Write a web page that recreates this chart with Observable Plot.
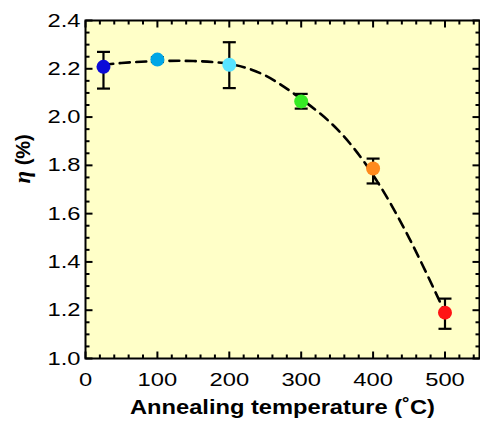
<!DOCTYPE html>
<html><head><meta charset="utf-8">
<script src="https://cdn.jsdelivr.net/npm/d3@7"></script>
<script src="https://cdn.jsdelivr.net/npm/@observablehq/plot@0.6"></script>
<style>body{margin:0;background:#fff} svg{display:block}</style>
</head><body><div id="chart"></div>
<script>
const temps = [25, 100, 200, 300, 400, 500];
const eta = [2.208, 2.238, 2.217, 2.065, 1.787, 1.19];
const errLo = [2.118, 2.228, 2.12, 2.035, 1.725, 1.123];
const errHi = [2.27, 2.248, 2.31, 2.096, 1.828, 1.248];
const dotColors = ["#0a0ad8", "#00a6e6", "#58e4ff", "#36ea24", "#ff8a1c", "#ff1414"];
const fitTemps = [25, 50, 100, 150, 200, 250, 300, 350, 400, 450, 500];
const fitEta = [2.215, 2.224, 2.232, 2.232, 2.220, 2.172, 2.075, 1.95, 1.76, 1.50, 1.19];
const xTicks = [0, 100, 200, 300, 400, 500];
const yTicks = [1.0, 1.2, 1.4, 1.6, 1.8, 2.0, 2.2, 2.4];
const xLabel = "Annealing temperature (˚C)";
const yLabel = "η (%)";

const data = temps.map((t, i) => ({t, eta: eta[i], lo: errLo[i], hi: errHi[i], c: dotColors[i]}));
const fit = fitTemps.map((t, i) => ({t, eta: fitEta[i]}));

const seg = (dx, dy) => ({draw(ctx) { ctx.moveTo(0, 0); ctx.lineTo(dx, dy); }});
const cap = {draw(ctx) { ctx.moveTo(-6.5, 0); ctx.lineTo(6.5, 0); }};

const xMinor = d3.range(0, 548, 20).filter(v => v % 100 !== 0);
const yMinor = d3.range(20, 49).map(v => v / 20).filter(v => Math.round(v * 100) % 20 !== 0);

const tickOpts = {fill: "none", stroke: "black", strokeWidth: 2};

const chart = Plot.plot({
  width: 480,
  height: 426,
  marginLeft: 85,
  marginRight: 1,
  marginTop: 20,
  marginBottom: 68,
  style: {fontFamily: "'Liberation Sans', Arial, sans-serif", fontSize: "19px", background: "white", color: "black"},
  x: {domain: [0, 548]},
  y: {domain: [1.0, 2.4]},
  color: {type: "identity"},
  marks: [
    Plot.frame({fill: "#ffffc8"}),
    Plot.axisX({ticks: xTicks, tickSize: 0, tickPadding: 14, label: null, fontSize: 19}),
    Plot.axisY({ticks: yTicks, tickSize: 0, tickPadding: 5, label: null, tickFormat: d3.format(".1f"), fontSize: 19}),
    // inward ticks on all four sides
    Plot.dot(xTicks, {x: d => d, frameAnchor: "bottom", symbol: seg(0, -7), ...tickOpts}),
    Plot.dot(xMinor, {x: d => d, frameAnchor: "bottom", symbol: seg(0, -4), ...tickOpts}),
    Plot.dot(xTicks, {x: d => d, frameAnchor: "top", symbol: seg(0, 7), ...tickOpts}),
    Plot.dot(xMinor, {x: d => d, frameAnchor: "top", symbol: seg(0, 4), ...tickOpts}),
    Plot.dot(yTicks, {y: d => d, frameAnchor: "left", symbol: seg(7, 0), ...tickOpts}),
    Plot.dot(yMinor, {y: d => d, frameAnchor: "left", symbol: seg(4, 0), ...tickOpts}),
    Plot.dot(yTicks, {y: d => d, frameAnchor: "right", symbol: seg(-7, 0), ...tickOpts}),
    Plot.dot(yMinor, {y: d => d, frameAnchor: "right", symbol: seg(-4, 0), ...tickOpts}),
    // error bars
    Plot.ruleX(data, {x: "t", y1: "lo", y2: "hi", stroke: "black", strokeWidth: 2.2}),
    Plot.dot(data, {x: "t", y: "lo", symbol: cap, ...tickOpts, strokeWidth: 2.2}),
    Plot.dot(data, {x: "t", y: "hi", symbol: cap, ...tickOpts, strokeWidth: 2.2}),
    // fit curve
    Plot.line(fit, {x: "t", y: "eta", curve: "natural", stroke: "black", strokeWidth: 2.6, strokeDasharray: "10,6.5"}),
    // points
    Plot.dot(data, {x: "t", y: "eta", r: 7, fill: "c", stroke: null}),
    Plot.frame({stroke: "black", strokeWidth: 2}),
    Plot.text([xLabel], {frameAnchor: "bottom", dy: 55, text: d => d, fontSize: 20.5, fontWeight: "bold", fill: "black"}),
    Plot.text([yLabel], {frameAnchor: "left", dx: -62, dy: -6, rotate: -90, text: d => d, fontSize: 20, fontWeight: "bold", fill: "black"})
  ]
});

document.getElementById("chart").append(chart);

chart.querySelectorAll('g[aria-label="x-axis tick label"] text, g[aria-label="y-axis tick label"] text').forEach(t => {
  const w = t.getComputedTextLength();
  t.setAttribute("textLength", (w * 1.25).toFixed(1));
  t.setAttribute("lengthAdjust", "spacingAndGlyphs");
});
chart.querySelectorAll("text").forEach(t => {
  if (t.textContent === xLabel) {
    t.setAttribute("textLength", "305");
    t.setAttribute("lengthAdjust", "spacingAndGlyphs");
  } else if (t.textContent === yLabel) {
    const ns = "http://www.w3.org/2000/svg";
    t.textContent = "";
    const a = document.createElementNS(ns, "tspan");
    a.setAttribute("font-family", "'Liberation Serif', 'DejaVu Serif', serif");
    a.setAttribute("font-style", "italic");
    a.setAttribute("font-size", "23");
    a.textContent = yLabel.slice(0, 1);
    const b = document.createElementNS(ns, "tspan");
    b.textContent = yLabel.slice(1);
    t.append(a, b);
  }
});
</script>
</body></html>
